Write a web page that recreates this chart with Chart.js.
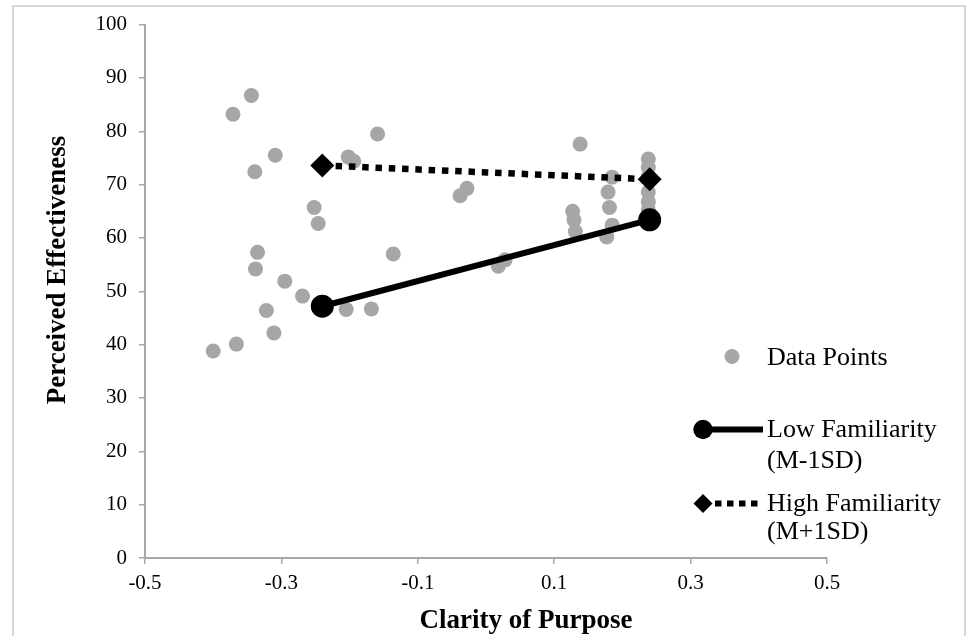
<!DOCTYPE html>
<html>
<head>
<meta charset="utf-8">
<title>Perceived Effectiveness by Clarity of Purpose</title>
<script src="https://cdn.jsdelivr.net/npm/chart.js@4.4.0/dist/chart.umd.min.js"></script>
<style>
  body { margin: 0; background: #fff; }
  #frame { position: absolute; left: 12px; top: 5px; width: 950px; height: 700px; border: 2px solid #d6d6d6; }
  #wrap { position: absolute; left: 0; top: 0; width: 966px; height: 636px; }
</style>
</head>
<body>
<div id="frame"></div>
<div id="wrap"><canvas id="myChart" width="966" height="636"></canvas></div>
<script>
// raw data points
const pointX = [
  -0.344, -0.371, -0.159, -0.309, -0.339, -0.202, -0.194, -0.252, -0.246, -0.335,
  -0.338, -0.136, -0.295, -0.269, -0.322, -0.205, -0.168, -0.311, -0.366, -0.400,
  0.138, -0.028, -0.038, 0.028, 0.018, 0.127, 0.129, 0.131, 0.185, 0.179,
  0.181, 0.185, 0.177, 0.238, 0.238, 0.238, 0.238, 0.238, 0.238
];
const pointY = [
  86.7, 83.2, 79.5, 75.5, 72.4, 75.2, 74.4, 65.7, 62.7, 57.3,
  54.2, 57.0, 51.9, 49.1, 46.4, 46.6, 46.7, 42.2, 40.1, 38.8,
  77.6, 69.3, 67.9, 55.9, 54.7, 65.0, 63.4, 61.2, 71.4, 68.6,
  65.7, 62.4, 60.2, 74.8, 73.2, 71.5, 68.6, 66.8, 65.3
];

// simple slopes
const lowX = [-0.24, 0.24];
const lowY = [47.2, 63.4];
const highX = [-0.24, 0.24];
const highY = [73.6, 71.0];

const xTicks = [-0.5, -0.3, -0.1, 0.1, 0.3, 0.5];
const yTicks = [0, 10, 20, 30, 40, 50, 60, 70, 80, 90, 100];

const xTitle = "Clarity of Purpose";
const yTitle = "Perceived Effectiveness";
const legendLabels = [
  ["Data Points"],
  ["Low Familiarity", "(M-1SD)"],
  ["High Familiarity", "(M+1SD)"]
];

const serif = "'Liberation Serif', 'Times New Roman', serif";
const axisGray = "#a8a8a8";
const dotGray = "#a6a6a6";

const toPoints = (xs, ys) => xs.map((x, i) => ({ x: x, y: ys[i] }));

// axis titles and legend drawn by hand (multi-line labels)
const extras = {
  id: "extras",
  afterDraw: (chart) => {
    const ctx = chart.ctx;
    const area = chart.chartArea;

    ctx.save();
    ctx.fillStyle = "#000";
    ctx.font = "bold 27px " + serif;
    ctx.textAlign = "center";
    ctx.textBaseline = "middle";
    ctx.fillText(xTitle, area.left + 381, 621);
    ctx.translate(58, 270);
    ctx.rotate(-Math.PI / 2);
    ctx.fillText(yTitle, 0, 0);
    ctx.restore();

    ctx.save();
    ctx.font = "26px " + serif;
    ctx.fillStyle = "#000";
    ctx.textAlign = "left";
    ctx.textBaseline = "alphabetic";

    // data points
    ctx.fillStyle = dotGray;
    ctx.beginPath();
    ctx.arc(732, 356.5, 7.5, 0, Math.PI * 2);
    ctx.fill();
    ctx.fillStyle = "#000";
    ctx.fillText(legendLabels[0][0], 767, 365);

    // low familiarity
    ctx.strokeStyle = "#000";
    ctx.lineWidth = 6;
    ctx.beginPath();
    ctx.moveTo(703, 429.5);
    ctx.lineTo(763, 429.5);
    ctx.stroke();
    ctx.beginPath();
    ctx.arc(703, 429.5, 9.7, 0, Math.PI * 2);
    ctx.fill();
    ctx.fillText(legendLabels[1][0], 767, 437);
    ctx.fillText(legendLabels[1][1], 767, 468);

    // high familiarity
    ctx.setLineDash([6.5, 5.5]);
    ctx.beginPath();
    ctx.moveTo(715, 503.5);
    ctx.lineTo(763, 503.5);
    ctx.stroke();
    ctx.setLineDash([]);
    ctx.beginPath();
    ctx.moveTo(703 - 9.5, 503.5);
    ctx.lineTo(703, 503.5 - 9.5);
    ctx.lineTo(703 + 9.5, 503.5);
    ctx.lineTo(703, 503.5 + 9.5);
    ctx.closePath();
    ctx.fill();
    ctx.fillText(legendLabels[2][0], 767, 511);
    ctx.fillText(legendLabels[2][1], 767, 539);
    ctx.restore();
  }
};

const ctx = document.getElementById("myChart").getContext("2d");

const config = {
  type: "scatter",
  data: {
    datasets: [{
      label: "Low Familiarity (M-1SD)",
      data: toPoints(lowX, lowY),
      showLine: true,
      borderColor: "#000",
      borderWidth: 6,
      pointRadius: 11.5,
      pointBackgroundColor: "#000",
      pointBorderWidth: 0,
      order: 1
    }, {
      label: "High Familiarity (M+1SD)",
      data: toPoints(highX, highY),
      showLine: true,
      borderColor: "#000",
      borderWidth: 6.5,
      borderDash: [6.5, 6.8],
      pointStyle: "rectRot",
      pointRadius: 12,
      pointBackgroundColor: "#000",
      pointBorderWidth: 0,
      order: 2
    }, {
      label: "Data Points",
      data: toPoints(pointX, pointY),
      pointRadius: 7.5,
      pointBackgroundColor: dotGray,
      pointBorderWidth: 0,
      order: 3
    }]
  },
  options: {
    responsive: false,
    animation: false,
    devicePixelRatio: 1,
    layout: { padding: { top: 22, right: 139, bottom: 0, left: 0 } },
    plugins: {
      legend: { display: false },
      tooltip: { enabled: false }
    },
    scales: {
      x: {
        type: "linear",
        min: -0.5,
        max: 0.5,
        afterBuildTicks: (scale) => { scale.ticks = xTicks.map(v => ({ value: v })); },
        afterFit: (scale) => { scale.height = 78; },
        border: { color: axisGray, width: 2 },
        grid: { drawOnChartArea: false, drawTicks: true, tickLength: 6, color: axisGray, lineWidth: 1.5 },
        ticks: {
          color: "#000",
          font: { family: serif, size: 21 },
          padding: 7,
          maxRotation: 0,
          autoSkip: false,
          callback: (v) => Number(v).toFixed(1)
        }
      },
      y: {
        type: "linear",
        min: 0,
        max: 100,
        afterBuildTicks: (scale) => { scale.ticks = yTicks.map(v => ({ value: v })); },
        afterFit: (scale) => { scale.width = 145; },
        border: { color: axisGray, width: 2 },
        grid: { drawOnChartArea: false, drawTicks: true, tickLength: 6, color: axisGray, lineWidth: 1.5 },
        ticks: {
          color: "#000",
          font: { family: serif, size: 21 },
          padding: 12,
          autoSkip: false,
          callback: (v) => v
        }
      }
    }
  },
  plugins: [extras]
};

const myChart = new Chart(ctx, config);
</script>
</body>
</html>
